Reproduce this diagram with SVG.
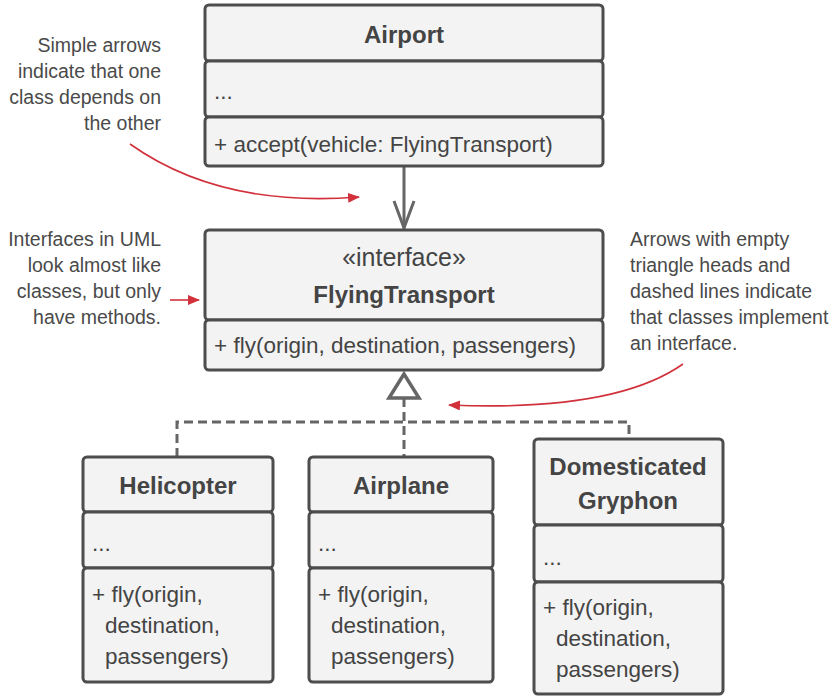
<svg xmlns="http://www.w3.org/2000/svg" width="840" height="696" viewBox="0 0 840 696">
<defs>
<style>
.sec{fill:#f3f3f3;stroke:#4d4d4d;stroke-width:3}
.t{font-family:"Liberation Sans",Arial,sans-serif;fill:#444;font-size:22.5px}
.b{font-family:"Liberation Sans",Arial,sans-serif;fill:#444;font-size:24px;font-weight:bold;text-anchor:middle}
.n{font-family:"Liberation Sans",Arial,sans-serif;fill:#4a4a4a;font-size:19.5px}
.r{text-anchor:end}
.dash{fill:none;stroke:#666;stroke-width:3;stroke-dasharray:9 5}
.red{fill:none;stroke:#d2313c;stroke-width:1.6}
</style>
<marker id="rh" markerWidth="12" markerHeight="10" refX="11" refY="5" orient="auto" markerUnits="userSpaceOnUse">
<path d="M0,0 L12,5 L0,10 Z" fill="#d2313c"/>
</marker>
</defs>
<rect width="840" height="696" fill="#ffffff"/>

<g id="connectors">
<line x1="404" y1="166" x2="404" y2="228" stroke="#666" stroke-width="3"/>
<polyline points="394,201 404,228 414,201" fill="none" stroke="#666" stroke-width="3"/>
<path class="dash" d="M404,398 V457"/>
<path class="dash" d="M177,457 V422 H629 V439"/>
<polygon points="404,374 389,398 419,398" fill="#ffffff" stroke="#666" stroke-width="3.5" stroke-linejoin="miter"/>
</g>

<g id="Airport">
<rect class="sec" x="205" y="5" width="398" height="56" rx="4"/>
<rect class="sec" x="205" y="61" width="398" height="56" rx="4"/>
<rect class="sec" x="205" y="117" width="398" height="49" rx="4"/>
<text class="b" x="404" y="43">Airport</text>
<text class="t" x="214" y="99">...</text>
<text class="t" x="214" y="152">+ accept(vehicle: FlyingTransport)</text>
</g>

<g id="FlyingTransport">
<rect class="sec" x="205" y="230" width="398" height="90" rx="4"/>
<rect class="sec" x="205" y="320" width="398" height="50" rx="4"/>
<text class="t" x="404" y="266" text-anchor="middle" style="font-size:25px">«interface»</text>
<text class="b" x="404" y="303">FlyingTransport</text>
<text class="t" x="214" y="353">+ fly(origin, destination, passengers)</text>
</g>

<g id="Helicopter">
<rect class="sec" x="83" y="457" width="190" height="55" rx="4"/>
<rect class="sec" x="83" y="512" width="190" height="56" rx="4"/>
<rect class="sec" x="83" y="568" width="190" height="114" rx="4"/>
<text class="b" x="178" y="494">Helicopter</text>
<text class="t" x="92" y="551">...</text>
<text class="t" x="92" y="602">+ fly(origin,</text>
<text class="t" x="105" y="633">destination,</text>
<text class="t" x="105" y="664">passengers)</text>
</g>

<g id="Airplane">
<rect class="sec" x="309" y="457" width="184" height="55" rx="4"/>
<rect class="sec" x="309" y="512" width="184" height="56" rx="4"/>
<rect class="sec" x="309" y="568" width="184" height="114" rx="4"/>
<text class="b" x="401" y="494">Airplane</text>
<text class="t" x="318" y="551">...</text>
<text class="t" x="318" y="602">+ fly(origin,</text>
<text class="t" x="331" y="633">destination,</text>
<text class="t" x="331" y="664">passengers)</text>
</g>

<g id="DomesticatedGryphon">
<rect class="sec" x="534" y="439" width="189" height="86" rx="4"/>
<rect class="sec" x="534" y="525" width="189" height="57" rx="4"/>
<rect class="sec" x="534" y="582" width="189" height="112" rx="4"/>
<text class="b" x="628" y="475">Domesticated</text>
<text class="b" x="628" y="509">Gryphon</text>
<text class="t" x="543" y="565">...</text>
<text class="t" x="543" y="615">+ fly(origin,</text>
<text class="t" x="556" y="646">destination,</text>
<text class="t" x="556" y="677">passengers)</text>
</g>

<g id="notes">
<text class="n r" x="161" y="52">Simple arrows</text>
<text class="n r" x="161" y="78">indicate that one</text>
<text class="n r" x="161" y="104">class depends on</text>
<text class="n r" x="161" y="130">the other</text>
<path class="red" d="M130,144 Q220,208 359,197" marker-end="url(#rh)"/>

<text class="n r" x="161" y="246">Interfaces in UML</text>
<text class="n r" x="161" y="272">look almost like</text>
<text class="n r" x="161" y="298">classes, but only</text>
<text class="n r" x="161" y="324">have methods.</text>
<path class="red" d="M170,300 H199" marker-end="url(#rh)"/>

<text class="n" x="630" y="246">Arrows with empty</text>
<text class="n" x="630" y="272">triangle heads and</text>
<text class="n" x="630" y="298">dashed lines indicate</text>
<text class="n" x="630" y="324">that classes implement</text>
<text class="n" x="630" y="350">an interface.</text>
<path class="red" d="M683,364 Q615,412 449,405" marker-end="url(#rh)"/>
</g>
</svg>
